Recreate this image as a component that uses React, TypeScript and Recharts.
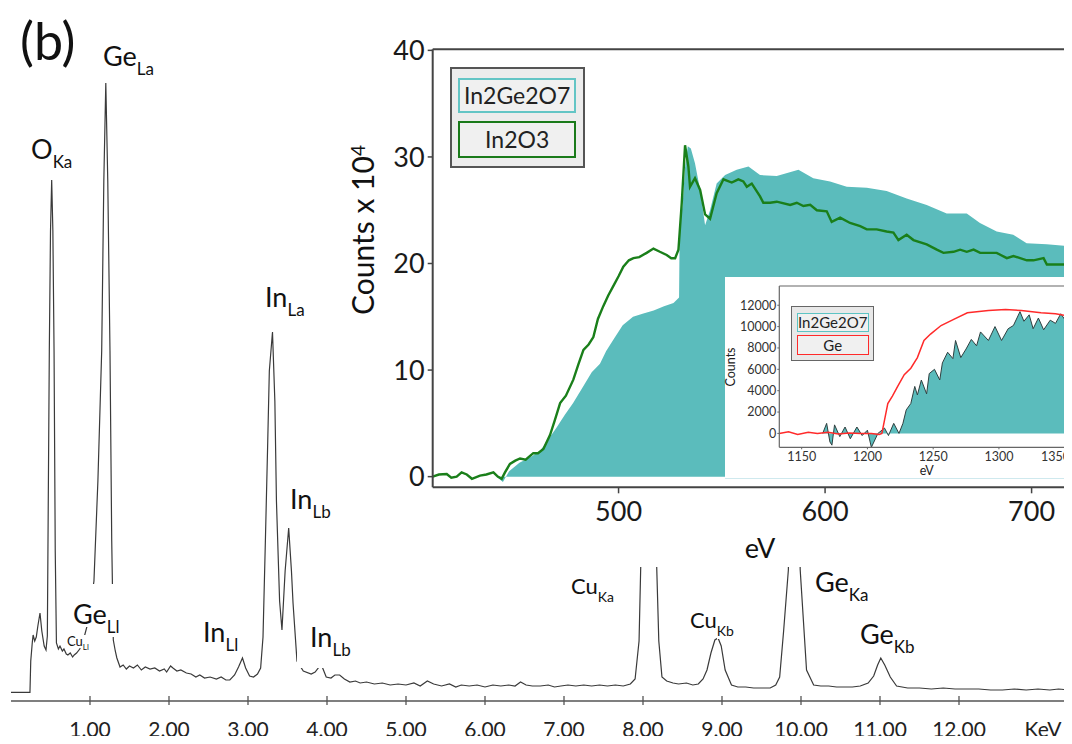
import { Area, ComposedChart, Line, LineChart, ReferenceLine, XAxis, YAxis } from "recharts";

// EDX spectrum (main panel), keV vs. counts (arbitrary units)
const edxKeV = [
  0, 0.24, 0.25, 0.27, 0.28, 0.3, 0.32, 0.34, 0.367, 0.39, 0.42, 0.443, 0.46, 0.485, 0.5, 0.515, 0.53, 0.545, 0.56,
  0.575, 0.6, 0.62, 0.65, 0.67, 0.7, 0.72, 0.75, 0.78, 0.8, 0.83, 0.87, 0.92, 0.98, 1.05, 1.1, 1.148, 1.175, 1.2,
  1.225, 1.253, 1.275, 1.295, 1.32, 1.34, 1.38, 1.42, 1.46, 1.5, 1.55, 1.6, 1.65, 1.7, 1.76, 1.82, 1.88, 1.94, 1.97,
  2.02, 2.05, 2.1, 2.15, 2.22, 2.28, 2.34, 2.39, 2.45, 2.52, 2.6, 2.66, 2.72, 2.77, 2.83, 2.88, 2.93, 2.97, 3.02,
  3.07, 3.12, 3.16, 3.19, 3.22, 3.25, 3.27, 3.31, 3.34, 3.36, 3.4, 3.43, 3.47, 3.515, 3.55, 3.57, 3.62, 3.7, 3.8,
  3.85, 3.9, 3.93, 3.96, 3.99, 4.05, 4.1, 4.16, 4.22, 4.29, 4.36, 4.42, 4.5, 4.6, 4.7, 4.8, 4.9, 5.0, 5.1, 5.18,
  5.27, 5.35, 5.45, 5.55, 5.63, 5.7, 5.8, 5.9, 6.0, 6.1, 6.2, 6.3, 6.38, 6.45, 6.52, 6.6, 6.7, 6.8, 6.88, 6.96, 7.05,
  7.15, 7.25, 7.35, 7.45, 7.55, 7.65, 7.75, 7.84, 7.9, 7.95, 7.99, 8.04, 8.1, 8.15, 8.2, 8.24, 8.3, 8.38, 8.45, 8.55,
  8.63, 8.7, 8.76, 8.81, 8.86, 8.91, 8.95, 8.99, 9.04, 9.12,
  9.2, 9.3, 9.4, 9.5, 9.61, 9.68, 9.73, 9.78, 9.84, 9.915,
  9.99, 10.07, 10.16, 10.25, 10.35, 10.45, 10.55, 10.65, 10.75, 10.85,
  10.92, 10.97, 11.01, 11.06, 11.13, 11.21, 11.35, 11.5, 11.65, 11.8,
  11.95, 12.1, 12.25, 12.4, 12.55, 12.7, 12.85, 13.0, 13.15, 13.26, 13.4,
];
const edxCounts = [
  8.7, 8.7, 40, 59, 66, 60, 64, 75, 88, 70, 55, 51, 65, 350, 470, 521, 470, 350, 150,
  58, 52, 55, 50, 52, 47, 46, 48, 44, 46, 48, 52, 62, 80, 120, 220, 350, 520, 618,
  520, 350, 160, 61, 50, 43, 34, 36, 32, 35, 33, 36, 31, 34, 32, 33, 30, 32, 29,
  35, 33, 30, 31, 28, 27, 24, 26, 23, 24, 22, 24, 21, 21, 26, 34, 43, 33, 25,
  24, 27, 33, 64, 160, 260, 330, 369, 300, 200, 100, 71, 130, 173, 130, 98, 40, 30, 27,
  29, 34, 36, 30, 24, 23, 26, 26, 22, 19, 20, 18, 19, 17, 18, 16, 17, 16, 18, 15,
  20, 17, 15, 17, 14, 16, 15, 16, 14, 16, 15, 16, 15, 19, 16, 15, 15, 16, 14, 15, 16,
  15, 16, 15, 16, 15, 16, 15, 17, 22, 60, 200, 420, 420, 200, 60, 24, 20, 18, 17, 18,
  16, 17, 22, 31, 48, 61, 63, 55, 31, 16,
  14, 14, 13, 13, 13, 16, 24, 70, 131, 450,
  131, 31, 16, 15, 15, 14, 14, 14, 15, 18,
  25, 36, 43, 36, 24, 15, 13, 13, 12, 13,
  12, 12, 12, 11, 11, 12, 11, 12, 11, 12, 11,
];
const edxTicks = [1, 2, 3, 4, 5, 6, 7, 8, 9, 10, 11, 12];

// EELS O-K edge inset (counts x 10^4)
const in2ge2o7Ev = [
  441, 444, 447, 452, 457, 462, 466, 470, 474, 478, 483, 487, 491, 494, 498, 502, 507, 512, 517, 522, 526.6, 529.3,
  529.6, 531, 532.2, 533.5, 535, 537, 539.5, 541.9, 544.3, 547.5, 551.6, 557.2, 562.9, 568.5, 576.6, 587.1, 594.3,
  602.4, 610.5, 620.2, 629.8, 639.5, 649.2, 658.9, 668.6, 675, 683.1, 691.1, 697.6, 707.3, 720,
];
const in2ge2o7Counts = [
  0, -0.5, 0.5, 1.3, 1.8, 2.4, 3.5, 4.6, 5.8, 6.9, 8.5, 9.8, 10.6, 11.8, 13.0, 14.2, 15.0, 15.3, 15.6, 16.0, 16.3, 16.8,
  23.5, 25.5, 29.0, 31.0, 30.8, 29.4, 26.9, 23.6, 25.0, 27.5, 28.3, 28.8, 29.1, 28.3, 28.2, 28.8, 28.0,
  27.7, 27.2, 27.1, 26.8, 26.1, 25.5, 24.7, 24.7, 23.8, 23.0, 22.7, 21.9, 21.8, 21.6,
];
const in2o3Ev = [
  410, 413, 416.8, 419, 421.6, 424, 426.5, 429, 432.9, 436, 439.4, 441.5, 443.4, 445, 447.4, 450, 452.3, 455, 458.7,
  461, 463.6, 466.8, 469, 471.7, 474.5, 478.1, 480.5, 483, 485.5, 487.8, 490, 492.6, 495, 497.5, 500, 502.3, 505,
  507.2, 510, 513.6, 516.9, 520, 523.3, 525.5, 527.4, 529, 530.6, 532.2, 533.8, 534.6, 537, 539.5, 541.9, 544.3,
  547.5, 550.8, 554.8, 558, 560.4, 562.1, 564.5, 568.5, 570.1, 573.4, 576.6, 583.1, 586.3, 589.5, 592.8, 596,
  600.8, 603.2, 607.3, 612.1, 617, 620.2, 625, 629.8, 633.1, 635.5, 639.5, 642.8, 649.2, 654.1, 657.3, 662.2,
  665.4, 668.6, 671.9, 675.1, 683.1, 688, 691.2, 697.7, 700.9, 705.8, 707.4, 713.9, 720,
];
const in2o3Counts = [
  0, 0.2, 0.25, -0.1, 0, 0.4, 0.2, -0.2, 0.1, 0.2, 0.4, 0, -0.2, 0.4, 1.2, 1.5, 1.7, 1.6, 2.2,
  2.2, 2.6, 3.9, 5.2, 6.9, 7.6, 9.1, 10.5, 11.9, 12.4, 13.1, 14.8, 16.0, 17.0, 17.9, 18.8, 19.7, 20.3,
  20.5, 20.6, 21.0, 21.4, 21.1, 20.8, 20.5, 20.5, 21.3, 25.7, 31.1, 29.1, 27.2, 28.0, 26.9, 24.6, 24.2,
  26.6, 27.9, 27.6, 27.9, 27.7, 27.2, 27.5, 26.3, 25.7, 25.7, 25.8, 25.5, 25.7, 25.4, 25.5, 25.0,
  24.9, 23.9, 24.3, 23.8, 23.5, 23.2, 23.2, 23.0, 22.9, 22.2, 22.7, 22.2, 21.8, 21.3, 21.0, 21.1,
  21.3, 21.1, 21.3, 21.0, 21.0, 20.5, 20.7, 20.3, 20.3, 20.5, 19.9, 19.9, 19.9,
];
const eelsXTicks = [500, 600, 700];
const eelsYTicks = [0, 10, 20, 30, 40];

// Ge-L edge inset
const geSampleEv = [
  1166, 1169, 1171.5, 1173, 1175, 1179, 1183, 1187, 1192, 1196, 1200, 1203, 1208, 1213, 1216, 1220, 1224, 1227,
  1229.5, 1233, 1236, 1238, 1241, 1245, 1247, 1251, 1255, 1257, 1261, 1265, 1267, 1271, 1275, 1279, 1283, 1286,
  1292, 1297, 1302, 1307, 1311, 1316, 1319, 1323, 1326, 1330, 1334, 1339, 1343, 1347, 1351, 1354, 1357, 1362, 1368,
];
const geSampleCounts = [
  0, 940, -800, -1100, 800, -300, 600, -500, 600, -200, 300, -1300, 0, 500, -200, 940, 0, 940,
  2200, 2800, 4400, 3600, 5000, 3700, 5600, 6000, 5000, 6600, 7600, 7000, 8700, 7100, 7900, 8800, 8200, 9500,
  8700, 10000, 8700, 9800, 10100, 11400, 10500, 11100, 9800, 10800, 9700, 10600, 10300, 11200, 10500, 11600, 10800, 11200, 11000,
];
const geRefEv = [
  1133, 1140, 1147, 1155, 1162, 1170, 1178, 1186, 1195, 1203, 1209, 1211, 1213, 1215.5, 1219, 1223, 1228, 1233,
  1238, 1243, 1248, 1256, 1266, 1276, 1292, 1305, 1317, 1332, 1343, 1357, 1368,
];
const geRefCounts = [
  0, 150, -100, 100, 0, 100, -50, 50, 0, 0, -100, 0, 1250, 2800, 3500, 4400, 5500, 6100,
  7100, 8700, 9300, 10100, 10700, 11300, 11500, 11600, 11500, 11300, 11200, 10900, 10800,
];
const geXTicks = [1150, 1200, 1250, 1300, 1350];
const geYTicks = [0, 2000, 4000, 6000, 8000, 10000, 12000];

const edxData = edxKeV.map((k, i) => ({ kev: k, counts: edxCounts[i] }));
const tealData = in2ge2o7Ev.map((e, i) => ({ ev: e, v: in2ge2o7Counts[i] }));
const greenData = in2o3Ev.map((e, i) => ({ ev: e, v: in2o3Counts[i] }));
const geSampleData = geSampleEv.map((e, i) => ({ ev: e, v: geSampleCounts[i] }));
const geRefData = geRefEv.map((e, i) => ({ ev: e, v: geRefCounts[i] }));

const TEAL = "#5bbcbc";
const FONT = "Lato, 'Open Sans', sans-serif";
const EELS_YMAX = 40.1;
const GE_YMAX = 13800;

function EdxTick(props: any) {
  const { x, y, payload } = props;
  return (
    <g>
      <line x1={x} x2={x} y1={y - 5} y2={y + 4} stroke="#555" strokeWidth={1.3} />
      <text x={x} y={y + 35.5} textAnchor="middle" fontSize={21} fontFamily={FONT} fill="#222">
        {Number(payload.value).toFixed(2)}
      </text>
    </g>
  );
}

// the Ge inset is cut by the page edge; keep its last label inside the page
function GeTick(props: any) {
  const { x, y, payload } = props;
  const edge = 345;
  const halfW = 14;
  const clamp = x + halfW > edge;
  return (
    <text
      x={clamp ? edge : x}
      y={y}
      dy="0.71em"
      textAnchor={clamp ? "end" : "middle"}
      fontSize={12.5}
      fontFamily={FONT}
      fill="#333"
    >
      {payload.value}
    </text>
  );
}

function PeakLabel({ x, y, text, sub, size = 27, padT = 0, padL = 0, padB = 0 }: any) {
  const subSize = Math.round(size * 0.63);
  return (
    <div
      style={{
        position: "absolute",
        left: x - padL,
        top: y - 0.167 * size - padT,
        paddingTop: padT,
        paddingLeft: padL,
        paddingBottom: padB,
        fontSize: size,
        lineHeight: 1,
        fontFamily: FONT,
        color: "#111",
        background: "#fff",
        whiteSpace: "nowrap",
      }}
    >
      {text}
      <span style={{ fontSize: subSize, position: "relative", top: size * 0.33, background: "#fff" }}>{sub}</span>
    </div>
  );
}

function LegendItem({ left, top, width, height, border, label, size, bw }: any) {
  return (
    <div
      style={{
        position: "absolute",
        left,
        top,
        width,
        height,
        boxSizing: "border-box",
        border: `${bw}px solid ${border}`,
        background: "#f0f0f0",
        fontFamily: FONT,
        fontSize: size,
        color: "#222",
        display: "flex",
        alignItems: "center",
        justifyContent: "center",
      }}
    >
      {label}
    </div>
  );
}

export default function App() {
  return (
    <div
      style={{
        position: "relative",
        width: 1072,
        height: 744,
        margin: -8,
        overflow: "hidden",
        background: "#fff",
        fontFamily: FONT,
      }}
    >
      {/* main EDX spectrum */}
      <div style={{ position: "absolute", left: 0, top: 0 }}>
        <LineChart width={1072} height={744} data={edxData} margin={{ top: 81, right: 2.4, left: 11, bottom: 0 }}>
          <XAxis
            dataKey="kev"
            type="number"
            domain={[0, 13.4]}
            ticks={edxTicks}
            height={43}
            tickSize={0}
            tickMargin={0}
            tickLine={false}
            axisLine={{ stroke: "#555", strokeWidth: 1.3 }}
            tick={<EdxTick />}
            interval={0}
          />
          <YAxis hide width={0} type="number" domain={[0, 620]} allowDataOverflow />
          <Line
            dataKey="counts"
            type="linear"
            stroke="#3a3a3a"
            strokeWidth={1.2}
            dot={false}
            isAnimationActive={false}
          />
        </LineChart>
      </div>

      <div
        style={{
          position: "absolute",
          left: 20,
          top: 14,
          fontSize: 52,
          lineHeight: 1,
          fontFamily: FONT,
          color: "#111",
        }}
      >
        (b)
      </div>
      <div
        style={{
          position: "absolute",
          left: 1043 - 30,
          width: 60,
          textAlign: "center",
          top: 721.5 - 0.167 * 21,
          fontSize: 21,
          lineHeight: 1,
          fontFamily: FONT,
          color: "#222",
        }}
      >
        KeV
      </div>

      <PeakLabel x={31} y={140} text="O" sub="Ka" />
      <PeakLabel x={103} y={47} text="Ge" sub="La" />
      <PeakLabel x={265} y={288} text="In" sub="La" />
      <PeakLabel x={290} y={490} text="In" sub="Lb" />
      <PeakLabel x={73} y={605} text="Ge" sub="Ll" padT={16} />
      <PeakLabel x={67} y={637} text="Cu" sub="Ll" size={13} />
      <PeakLabel x={203} y={623} text="In" sub="Ll" />
      <PeakLabel x={310} y={628} text="In" sub="Lb" padL={13} padB={18} />
      <PeakLabel x={571} y={579} text="Cu" sub="Ka" size={22} />
      <PeakLabel x={690} y={613} text="Cu" sub="Kb" size={22} />
      <PeakLabel x={815} y={573} text="Ge" sub="Ka" />
      <PeakLabel x={860} y={625} text="Ge" sub="Kb" />

      {/* EELS O-K edge inset */}
      <div style={{ position: "absolute", left: 345, top: 28, width: 740, height: 539, background: "#fff" }}>
        <ComposedChart width={740} height={539} margin={{ top: 21.3, right: 12.1, left: 0, bottom: 0 }}>
          <XAxis
            dataKey="ev"
            type="number"
            domain={[410, 720]}
            ticks={eelsXTicks}
            allowDataOverflow
            height={79.7}
            tickSize={6}
            tickMargin={9}
            axisLine={{ stroke: "#444", strokeWidth: 2 }}
            tickLine={{ stroke: "#444", strokeWidth: 1.5 }}
            tick={{ fontSize: 27, fill: "#1a1a1a", fontFamily: FONT }}
          />
          <YAxis
            type="number"
            domain={[-1, EELS_YMAX]}
            ticks={eelsYTicks}
            allowDataOverflow
            width={87.7}
            tickSize={5}
            tickMargin={3}
            axisLine={{ stroke: "#444", strokeWidth: 2 }}
            tickLine={{ stroke: "#444", strokeWidth: 1.5 }}
            tick={{ fontSize: 27, fill: "#1a1a1a", fontFamily: FONT }}
          />
          <ReferenceLine y={EELS_YMAX} stroke="#444" strokeWidth={2} />
          <Area
            data={tealData}
            dataKey="v"
            type="linear"
            fill={TEAL}
            fillOpacity={1}
            stroke="none"
            isAnimationActive={false}
          />
          <Line
            data={greenData}
            dataKey="v"
            type="linear"
            stroke="#1a7f1a"
            strokeWidth={2.4}
            dot={false}
            isAnimationActive={false}
          />
        </ComposedChart>
      </div>

      <div
        style={{
          position: "absolute",
          left: 362 - 100,
          top: 230 - 20,
          width: 200,
          height: 40,
          lineHeight: "40px",
          textAlign: "center",
          transform: "rotate(-90deg)",
          fontSize: 30,
          fontFamily: FONT,
          color: "#111",
          whiteSpace: "nowrap",
        }}
      >
        Counts x 10<sup style={{ fontSize: 19, verticalAlign: "top", position: "relative", top: -4 }}>4</sup>
      </div>
      <div
        style={{
          position: "absolute",
          left: 760 - 30,
          width: 60,
          textAlign: "center",
          top: 539 - 0.167 * 27,
          fontSize: 27,
          lineHeight: 1,
          fontFamily: FONT,
          color: "#111",
        }}
      >
        eV
      </div>

      <div
        style={{
          position: "absolute",
          left: 450,
          top: 66.7,
          width: 135,
          height: 101,
          boxSizing: "border-box",
          border: "2px solid #555",
          background: "#ececec",
        }}
      />
      <LegendItem left={458.3} top={77.7} width={117.7} height={35.6} border="#63c5c5" label="In2Ge2O7" size={23} bw={2.5} />
      <LegendItem left={458.3} top={120.7} width={117.7} height={37} border="#1a7a1a" label="In2O3" size={23} bw={2.5} />

      {/* Ge-L edge inset */}
      <div
        style={{
          position: "absolute",
          left: 725,
          top: 277,
          width: 366,
          height: 201,
          background: "#fff",
          borderBottom: "1px solid #cfe9ee",
        }}
      >
        <ComposedChart width={366} height={201} margin={{ top: 9, right: 0, left: 0, bottom: 0 }}>
          <XAxis
            dataKey="ev"
            type="number"
            domain={[1133, 1370]}
            ticks={geXTicks}
            allowDataOverflow
            height={30.7}
            tickSize={2}
            tickMargin={3}
            axisLine={{ stroke: "#666", strokeWidth: 1.2 }}
            tickLine={{ stroke: "#666" }}
            tick={<GeTick />}
            interval={0}
          />
          <YAxis
            type="number"
            domain={[-1300, GE_YMAX]}
            ticks={geYTicks}
            allowDataOverflow
            width={54.3}
            tickSize={2}
            tickMargin={1}
            axisLine={{ stroke: "#666", strokeWidth: 1.2 }}
            tickLine={{ stroke: "#666" }}
            tick={{ fontSize: 12.5, fill: "#333", fontFamily: FONT }}
          />
          <ReferenceLine y={GE_YMAX} stroke="#666" strokeWidth={1.2} />
          <Area
            data={geSampleData}
            dataKey="v"
            type="linear"
            fill={TEAL}
            fillOpacity={1}
            stroke="#2f3f3f"
            strokeWidth={1}
            isAnimationActive={false}
          />
          <Line
            data={geRefData}
            dataKey="v"
            type="linear"
            stroke="#ff2a2a"
            strokeWidth={1.5}
            dot={false}
            isAnimationActive={false}
          />
        </ComposedChart>
      </div>

      <div
        style={{
          position: "absolute",
          left: 730.7 - 30,
          top: 366.7 - 8,
          width: 60,
          height: 16,
          lineHeight: "16px",
          textAlign: "center",
          transform: "rotate(-90deg)",
          fontSize: 12.5,
          fontFamily: FONT,
          color: "#222",
        }}
      >
        Counts
      </div>
      <div
        style={{
          position: "absolute",
          left: 926.7 - 20,
          top: 465,
          width: 40,
          textAlign: "center",
          fontSize: 12.5,
          lineHeight: 1,
          fontFamily: FONT,
          color: "#222",
        }}
      >
        eV
      </div>

      <div
        style={{
          position: "absolute",
          left: 791,
          top: 306,
          width: 83,
          height: 55,
          boxSizing: "border-box",
          border: "1.5px solid #666",
          background: "#e8e8e8",
        }}
      />
      <LegendItem left={796.7} top={312.7} width={72} height={19} border="#5cc4c4" label="In2Ge2O7" size={15} bw={1.5} />
      <LegendItem left={796.7} top={335.3} width={72} height={19.4} border="#ff2a2a" label="Ge" size={15} bw={1.5} />
    </div>
  );
}
